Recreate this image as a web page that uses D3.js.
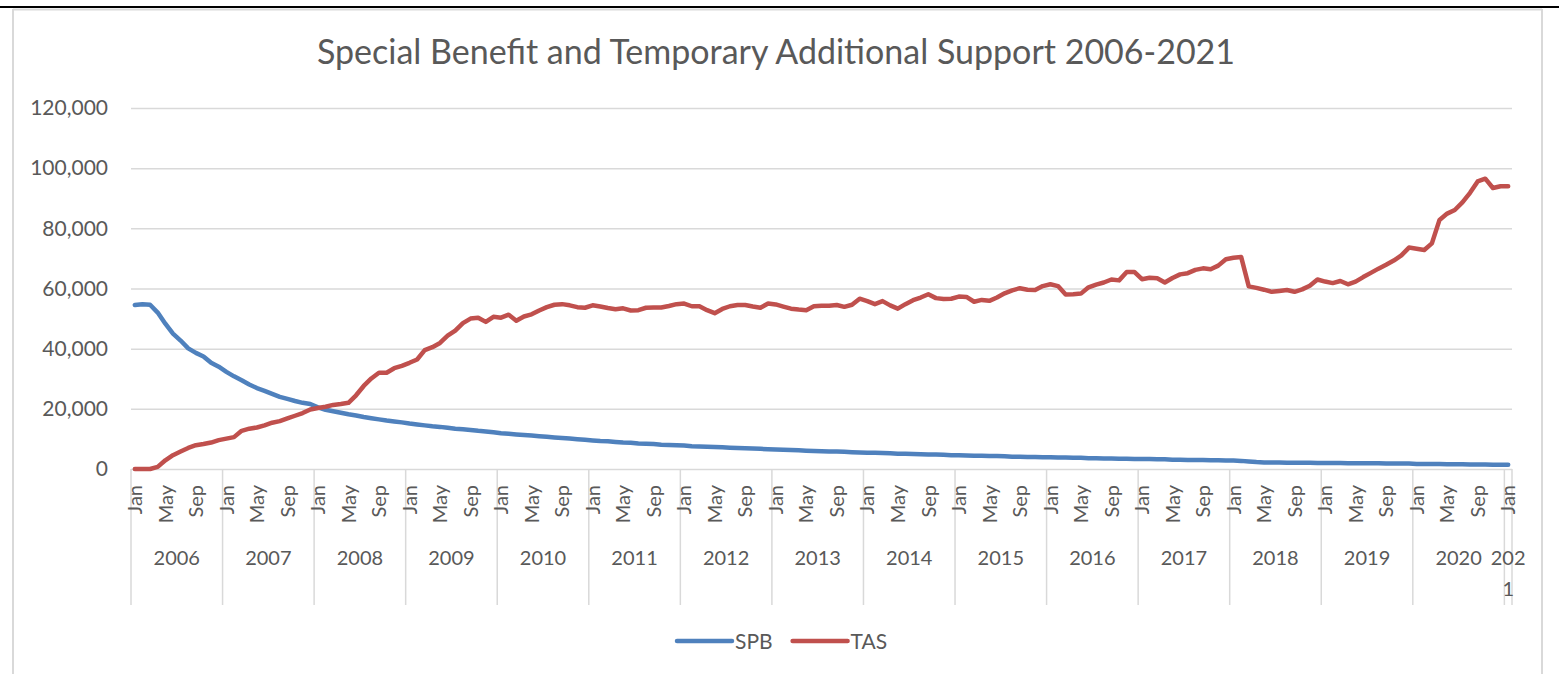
<!DOCTYPE html>
<html>
<head>
<meta charset="utf-8">
<script src="https://cdn.jsdelivr.net/npm/d3@7"></script>
<style>
  html, body { margin: 0; padding: 0; background: #fff; }
  svg { display: block; font-family: Lato, "Open Sans", sans-serif; }
</style>
</head>
<body>
<div id="chart"></div>
<script>
// ********* data (monthly, Jan 2006 - Jan 2021)
var years = [2006, 2007, 2008, 2009, 2010, 2011, 2012, 2013, 2014, 2015, 2016, 2017, 2018, 2019, 2020, 2021];
var monthNames = ["Jan", "Feb", "Mar", "Apr", "May", "Jun", "Jul", "Aug", "Sep", "Oct", "Nov", "Dec"];
var seriesNames = ["SPB", "TAS"];
var seriesColors = ["#4f81bd", "#c0504d"];
var yTicks = [0, 20000, 40000, 60000, 80000, 100000, 120000];

var spb = [
  54500, 54800, 54600, 52000, 48300, 45000, 42700, 40100, 38600, 37400, 35300, 34000,
  32300, 30800, 29500, 28100, 26900, 26000, 25000, 24000, 23300, 22600, 22000, 21600,
  20500, 19700, 19200, 18700, 18200, 17800, 17300, 16900, 16500, 16100, 15800, 15500,
  15100, 14800, 14500, 14200, 14000, 13700, 13400, 13200, 13000, 12700, 12500, 12200,
  11900, 11700, 11500, 11300, 11100, 10900, 10700, 10500, 10300, 10100, 9900, 9700,
  9500, 9300, 9200, 9000, 8800, 8700, 8500, 8400, 8300, 8100, 8000, 7900,
  7800, 7600, 7500, 7400, 7300, 7200, 7100, 7000, 6900, 6800, 6700, 6600,
  6500, 6400, 6300, 6200, 6100, 6000, 5900, 5800, 5800, 5700, 5600, 5500,
  5400, 5400, 5300, 5200, 5100, 5100, 5000, 4900, 4800, 4800, 4700, 4600,
  4600, 4500, 4400, 4400, 4300, 4300, 4200, 4100, 4100, 4000, 4000, 3900,
  3900, 3800, 3800, 3700, 3700, 3600, 3600, 3500, 3500, 3400, 3400, 3300,
  3300, 3300, 3200, 3200, 3100, 3100, 3000, 3000, 3000, 2900, 2900, 2800,
  2800, 2700, 2500, 2300, 2200, 2200, 2200, 2100, 2100, 2100, 2100, 2000,
  2000, 2000, 2000, 1900, 1900, 1900, 1900, 1900, 1800, 1800, 1800, 1800,
  1700, 1700, 1700, 1700, 1600, 1600, 1600, 1500, 1500, 1500, 1400, 1400,
  1400
];

var tas = [
  0, 0, 0, 700, 2900, 4600, 5800, 7000, 7900, 8300, 8800, 9600,
  10100, 10600, 12700, 13400, 13800, 14500, 15400, 15900, 16800, 17700, 18600, 19800,
  20300, 20700, 21300, 21600, 22000, 24500, 27600, 30100, 32000, 32000, 33500, 34300,
  35300, 36400, 39500, 40500, 41900, 44300, 46000, 48500, 50000, 50300, 48900, 50600,
  50300, 51300, 49300, 50700, 51400, 52700, 53800, 54600, 54800, 54400, 53800, 53600,
  54400, 54000, 53500, 53100, 53400, 52700, 52800, 53600, 53700, 53700, 54200, 54800,
  55000, 54100, 54100, 52800, 51800, 53200, 54100, 54500, 54500, 54000, 53600, 55000,
  54700, 54000, 53300, 53000, 52800, 54100, 54300, 54300, 54500, 53900, 54600, 56600,
  55800, 54800, 55800, 54400, 53300, 54800, 56100, 57000, 58100, 56800, 56500, 56600,
  57300, 57200, 55600, 56200, 55900, 57000, 58400, 59400, 60100, 59600, 59500, 60800,
  61400, 60800, 58000, 58100, 58300, 60400, 61300, 62000, 63000, 62700, 65500, 65500,
  63100, 63600, 63400, 62000, 63500, 64700, 65100, 66200, 66700, 66400, 67600, 69700,
  70200, 70500, 60700, 60200, 59600, 58900, 59200, 59500, 58900, 59700, 60900, 63000,
  62300, 61800, 62500, 61400, 62300, 63800, 65200, 66600, 67900, 69300, 71000, 73600,
  73200, 72800, 75000, 82800, 84900, 86100, 88600, 91800, 95600, 96500, 93400, 94000,
  94000
];

// month list: every month of every year, stopping at Jan of last year
var months = [];
years.forEach(function(y, k) {
  monthNames.forEach(function(m, j) {
    if (k < years.length - 1 || j === 0) months.push({ year: y, month: m, i: months.length });
  });
});

// ********* layout
var width = 1559, height = 674;
var plot = { left: 131, right: 1512, top: 108, bottom: 469 };
var textColor = "#595959";
var gridColor = "#d9d9d9";

var svg = d3.select("#chart")
  .append("svg")
    .attr("width", width)
    .attr("height", height);

// outer frame (page line + chart area border)
svg.append("rect").attr("x", 0).attr("y", 6).attr("width", width).attr("height", 2).attr("fill", "#000");
svg.append("line").attr("x1", 13).attr("x2", 1542).attr("y1", 9.5).attr("y2", 9.5)
  .attr("stroke", gridColor).attr("stroke-width", 2);
svg.append("line").attr("x1", 13).attr("x2", 13).attr("y1", 9).attr("y2", height)
  .attr("stroke", gridColor).attr("stroke-width", 2);
svg.append("line").attr("x1", 1542).attr("x2", 1542).attr("y1", 9).attr("y2", height)
  .attr("stroke", gridColor).attr("stroke-width", 2);

// scales
var x = d3.scalePoint()
  .domain(months.map(function(d) { return d.i; }))
  .range([plot.left, plot.right])
  .padding(0.5);

var xBand = d3.scaleBand()
  .domain(months.map(function(d) { return d.i; }))
  .range([plot.left, plot.right])
  .padding(0);

var y = d3.scaleLinear()
  .domain([0, 120000])
  .range([plot.bottom, plot.top]);

// title
svg.append("text")
  .attr("x", 776)
  .attr("y", 64)
  .attr("text-anchor", "middle")
  .attr("fill", textColor)
  .style("font-size", "34px")
  .text("Special Benefit and Temporary Additional Support 2006-2021");

// gridlines + y labels
var yAxis = d3.axisLeft(y)
  .tickValues(yTicks)
  .tickFormat(d3.format(","))
  .tickSize(-(plot.right - plot.left))
  .tickPadding(23);

var gy = svg.append("g")
  .attr("transform", "translate(" + plot.left + ",0)")
  .call(yAxis);
gy.select(".domain").remove();
gy.selectAll(".tick line").attr("stroke", gridColor).attr("stroke-width", 1.5);
gy.selectAll(".tick text")
  .attr("fill", textColor)
  .style("font-size", "21px")
  .style("font-family", "Lato, sans-serif");

// x axis: year separators
var yearStarts = months.filter(function(d) { return d.month === "Jan"; });
var sepX = yearStarts.map(function(d) { return xBand(d.i); }).concat([plot.right]);
svg.selectAll("line.sep")
  .data(sepX)
  .enter()
  .append("line")
    .attr("class", "sep")
    .attr("x1", function(d) { return d; })
    .attr("x2", function(d) { return d; })
    .attr("y1", plot.bottom)
    .attr("y2", 605)
    .attr("stroke", gridColor)
    .attr("stroke-width", 1.5);

// month labels every 4 months
svg.selectAll("text.month")
  .data(months.filter(function(d) { return d.i % 4 === 0; }))
  .enter()
  .append("text")
    .attr("class", "month")
    .attr("transform", function(d) { return "translate(" + x(d.i) + ",485) rotate(-90)"; })
    .attr("text-anchor", "end")
    .attr("dy", "0.36em")
    .attr("fill", textColor)
    .style("font-size", "20px")
    .text(function(d) { return d.month; });

// year labels, wrapped when the band is too narrow
var yearLabels = svg.selectAll("text.year")
  .data(yearStarts)
  .enter()
  .append("text")
    .attr("class", "year")
    .attr("text-anchor", "middle")
    .attr("fill", textColor)
    .style("font-size", "20px");

yearLabels.each(function(d, k) {
  var x0 = sepX[k], x1 = sepX[k + 1];
  var cx = (x0 + x1) / 2;
  var maxW = Math.max(x1 - x0, 40);
  var el = d3.select(this);
  var str = String(d.year);
  var lines = [], cur = "";
  var probe = el.append("tspan");
  for (var c = 0; c < str.length; c++) {
    probe.text(cur + str[c]);
    if (cur.length > 0 && probe.node().getComputedTextLength() > maxW) {
      lines.push(cur);
      cur = str[c];
    } else {
      cur += str[c];
    }
  }
  lines.push(cur);
  probe.remove();
  lines.forEach(function(l, n) {
    el.append("tspan").attr("x", cx).attr("y", 565 + n * 31).text(l);
  });
});

// lines
var line = d3.line()
  .x(function(d, i) { return x(i); })
  .y(function(d) { return y(d); });

var seriesData = [spb, tas];
svg.selectAll("path.series")
  .data(seriesData)
  .enter()
  .append("path")
    .attr("class", "series")
    .attr("d", line)
    .attr("fill", "none")
    .attr("stroke", function(d, i) { return seriesColors[i]; })
    .attr("stroke-width", 4.5)
    .attr("stroke-linejoin", "round")
    .attr("stroke-linecap", "round");

// legend
var legend = svg.append("g");
var lx = 677;
seriesNames.forEach(function(name, i) {
  legend.append("line")
    .attr("x1", lx).attr("x2", lx + 55)
    .attr("y1", 641).attr("y2", 641)
    .attr("stroke", seriesColors[i])
    .attr("stroke-width", 4.5)
    .attr("stroke-linecap", "round");
  var t = legend.append("text")
    .attr("x", lx + 58)
    .attr("y", 641)
    .attr("dy", "0.36em")
    .attr("fill", textColor)
    .style("font-size", "21px")
    .text(name);
  lx = lx + 58 + t.node().getComputedTextLength() + 20;
});
</script>
</body>
</html>
